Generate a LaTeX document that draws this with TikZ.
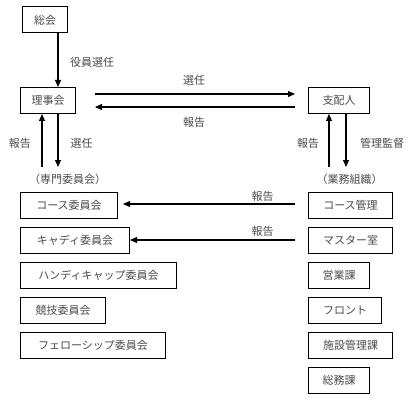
\documentclass[tikz,border=0pt]{standalone}
\usepackage{fontspec}
\setmainfont{Noto Sans CJK JP}
\usetikzlibrary{arrows.meta}
\definecolor{txt}{HTML}{4A4A4A}
\tikzset{
  box/.style={draw=black, line width=1pt, minimum height=26pt, inner sep=0pt, text=txt, font=\fontsize{11}{11}\selectfont, anchor=west},
  lbl/.style={text=txt, font=\fontsize{11}{11}\selectfont, inner sep=0pt},
  arr/.style={line width=1.1pt, -{Triangle[length=7pt,width=6pt]}},
  ln/.style={line width=1.1pt}
}
\begin{document}
\begin{tikzpicture}[x=1pt,y=-1pt]
\useasboundingbox (0,0) rectangle (412,401);
% top
\node[box, minimum width=45pt] (soukai) at (22,20) {総会};
\node[box, minimum width=55pt] (riji) at (20,100.5) {理事会};
\node[box, minimum width=61pt] (shihai) at (308,100.5) {支配人};
% 総会 -> 理事会
\coordinate (s1) at (58,33);
\coordinate (s2) at (58,87);
\draw[arr] (s1) -- (s2);
\node[lbl, anchor=west] (yakuin) at (70,62) {役員選任};
% horizontal
\coordinate (h1) at (95,94);
\coordinate (h2) at (295,94);
\coordinate (h3) at (295,107);
\coordinate (h4) at (95,107);
\draw[arr] (h1) -- (h2);
\draw[arr] (h3) -- (h4);
\node[lbl] (sennin1) at (194,80) {選任};
\node[lbl] (houkoku1) at (194,122) {報告};
% under 理事会
\coordinate (r1) at (42,167);
\coordinate (r2) at (42,114);
\coordinate (r3) at (58,114);
\coordinate (r4) at (58,167);
\draw[arr] (r1) -- (r2);
\draw[arr] (r3) -- (r4);
\node[lbl] (houkoku2) at (20,143) {報告};
\node[lbl] (sennin2) at (81.5,143) {選任};
\node[lbl] (senmon) at (67.5,179) {（専門委員会）};
% under 支配人
\coordinate (k1) at (329,167);
\coordinate (k2) at (329,114);
\coordinate (k3) at (346,114);
\coordinate (k4) at (346,167);
\draw[arr] (k1) -- (k2);
\draw[arr] (k3) -- (k4);
\node[lbl] (houkoku3) at (308,143) {報告};
\node[lbl] (kanri) at (382,143) {管理監督};
\node[lbl] (gyoumu) at (349.5,179) {（業務組織）};
% left column
\node[box, minimum width=97pt] (course) at (20,205) {コース委員会};
\node[box, minimum width=109pt] (caddie) at (20,240) {キャディ委員会};
\node[box, minimum width=156pt] (handi) at (20,275.5) {ハンディキャップ委員会};
\node[box, minimum width=85pt] (kyougi) at (20,310.5) {競技委員会};
\node[box, minimum width=145pt] (fellow) at (20,345.5) {フェローシップ委員会};
% right column
\node[box, minimum width=84pt] (ckanri) at (308,205) {コース管理};
\node[box, minimum width=84pt] (master) at (308,240) {マスター室};
\node[box, minimum width=61pt] (eigyou) at (308,275.5) {営業課};
\node[box, minimum width=73pt] (front) at (308,310.5) {フロント};
\node[box, minimum width=84pt] (shisetsu) at (308,345.5) {施設管理課};
\node[box, minimum width=61pt] (soumu) at (308,380.5) {総務課};
% report arrows
\coordinate (c1) at (295,204);
\coordinate (c2) at (123,204);
\coordinate (m1) at (295,240);
\coordinate (m2) at (130,240);
\draw[arr] (c1) -- (c2);
\draw[arr] (m1) -- (m2);
\node[lbl] (houkoku4) at (262.5,196) {報告};
\node[lbl] (houkoku5) at (262.5,231) {報告};
\end{tikzpicture}
\end{document}
